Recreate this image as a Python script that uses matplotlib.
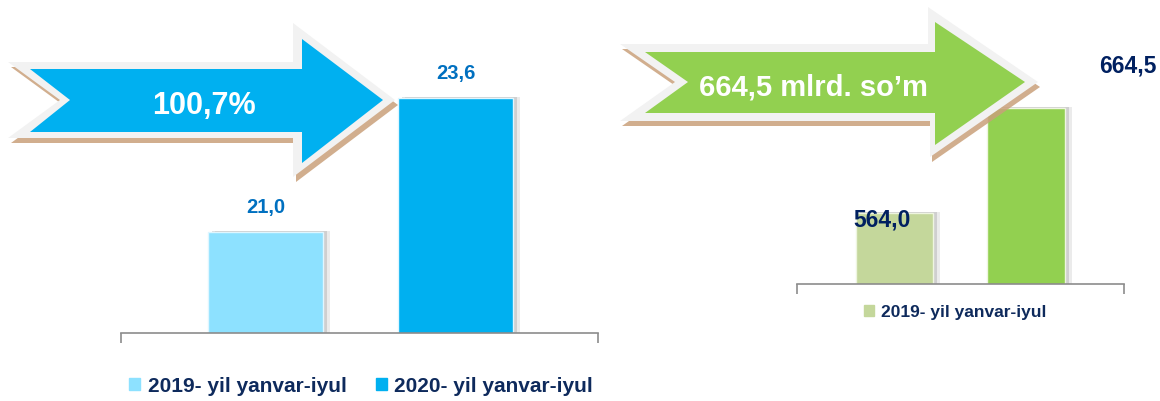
import matplotlib
matplotlib.use("Agg")
import matplotlib.pyplot as plt
import matplotlib.patheffects as pe
from matplotlib.patches import Polygon, Patch
from matplotlib.font_manager import FontProperties

# data
periods = ["2019- yil yanvar-iyul", "2020- yil yanvar-iyul"]
left_values = [21.0, 23.6]
left_labels = ["21,0", "23,6"]
right_values = [564.0, 664.5]
right_labels = ["564,0", "664,5"]
left_arrow_text = "100,7%"
right_arrow_text = "664,5 mlrd. so\u2019m"

left_colors = ["#8DE1FF", "#00B0F0"]
right_colors = ["#C4D79B", "#92D050"]

W, H = 1160, 401
NAVY = "#0E2A5C"


def bold(size):
    return FontProperties(family=["Liberation Sans", "DejaVu Sans"], weight="bold", size=size)


fig = plt.figure(figsize=(W / 100, H / 100), dpi=100)


def px_axes(x0, x1, y_base, y_top):
    return fig.add_axes([x0 / W, (H - y_base) / H, (x1 - x0) / W, (y_base - y_top) / H])


def style_axis(ax):
    for s in ("top", "right", "left"):
        ax.spines[s].set_visible(False)
    ax.spines["bottom"].set_color("#8c8c8c")
    ax.spines["bottom"].set_linewidth(1.2)
    lo, hi = ax.get_xlim()
    ax.set_xticks([lo, hi])
    ax.set_xticklabels([])
    ax.tick_params(axis="x", length=7, width=1.2, color="#8c8c8c", direction="out")
    ax.set_yticks([])
    ax.patch.set_alpha(0)


# soft-ish shadow: a few stacked offsets
shadow = [pe.SimplePatchShadow(offset=(5, 1), shadow_rgbFace="#7f7f7f", alpha=0.15),
          pe.SimplePatchShadow(offset=(3, 1), shadow_rgbFace="#7f7f7f", alpha=0.25),
          pe.Normal()]

# ---- left panel
axl = px_axes(121, 598, 333, 15)
axl.set_xlim(-0.7605, 1.75)
axl.set_ylim(19.04, 25.21)
bl = axl.bar([0, 1], left_values, width=0.605, color=left_colors,
             edgecolor="#dff6ff", linewidth=1.0)
for b in bl:
    b.set_path_effects(shadow)
for i, (v, t) in enumerate(zip(left_values, left_labels)):
    axl.annotate(t, (i, v), xytext=(0, 24), textcoords="offset pixels",
                 ha="center", va="center", fontproperties=bold(14.5), color="#0070C0")
style_axis(axl)
axl.legend([Patch(color=c) for c in left_colors], periods, loc="center",
           bbox_to_anchor=(361 / W, 1 - 386 / H),
           bbox_transform=fig.transFigure, ncol=2, frameon=False,
           prop=bold(15), labelcolor=NAVY, handlelength=0.55, handleheight=0.55,
           handletextpad=0.35, columnspacing=1.4)

# ---- right panel
axr = px_axes(797, 1124, 284, 15)
axr.set_xlim(-0.7414, 1.745)
axr.set_ylim(496.1, 753.5)
br = axr.bar([0, 1], right_values, width=0.59, color=right_colors,
             edgecolor="#eef5e0", linewidth=1.0)
for b in br:
    b.set_path_effects(shadow)
offsets = [(-12, -7), (102, 42)]
for i, (v, t) in enumerate(zip(right_values, right_labels)):
    axr.annotate(t, (i, v), xytext=offsets[i], textcoords="offset pixels",
                 ha="center", va="center", fontproperties=bold(16.5), color="#002060")
style_axis(axr)
axr.legend([Patch(color=right_colors[0])], periods[:1], loc="center",
           bbox_to_anchor=(955 / W, 1 - 312 / H),
           bbox_transform=fig.transFigure, frameon=False,
           prop=bold(12.5), labelcolor=NAVY, handlelength=0.6, handleheight=0.6,
           handletextpad=0.4)

# ---- arrows (overlay in pixel coordinates)
ov = fig.add_axes([0, 0, 1, 1], zorder=5)
ov.set_xlim(0, W)
ov.set_ylim(H, 0)
ov.axis("off")
ov.patch.set_alpha(0)


def arrow(outer, inner, fill, dx, dy, text, tx, ty, size):
    sh = [(x + dx, y + dy) for x, y in outer]
    ov.add_patch(Polygon(sh, closed=True, facecolor="#C9A07A", edgecolor="none", alpha=0.85))
    ov.add_patch(Polygon(outer, closed=True, facecolor="#F2F2F2", edgecolor="none"))
    ov.add_patch(Polygon(inner, closed=True, facecolor=fill, edgecolor="none"))
    ov.text(tx, ty, text, ha="center", va="center", color="white",
            fontproperties=bold(size))


arrow([(8, 62), (293, 62), (293, 23), (395, 100), (293, 177), (293, 138), (8, 138), (60, 100)],
      [(30, 69), (302, 69), (302, 39), (383, 100), (302, 163), (302, 132), (30, 132), (70, 100)],
      "#00B0F0", 3, 5, left_arrow_text, 204, 106, 22)
arrow([(620, 44), (928, 44), (928, 7), (1038, 82), (930, 157), (930, 121), (620, 121), (675, 82)],
      [(645, 52), (935, 52), (935, 22), (1025, 82), (935, 145), (935, 113), (645, 113), (688, 82)],
      "#92D050", 2, 5, right_arrow_text, 813, 88, 21)

fig.savefig("out.png", dpi=100)
